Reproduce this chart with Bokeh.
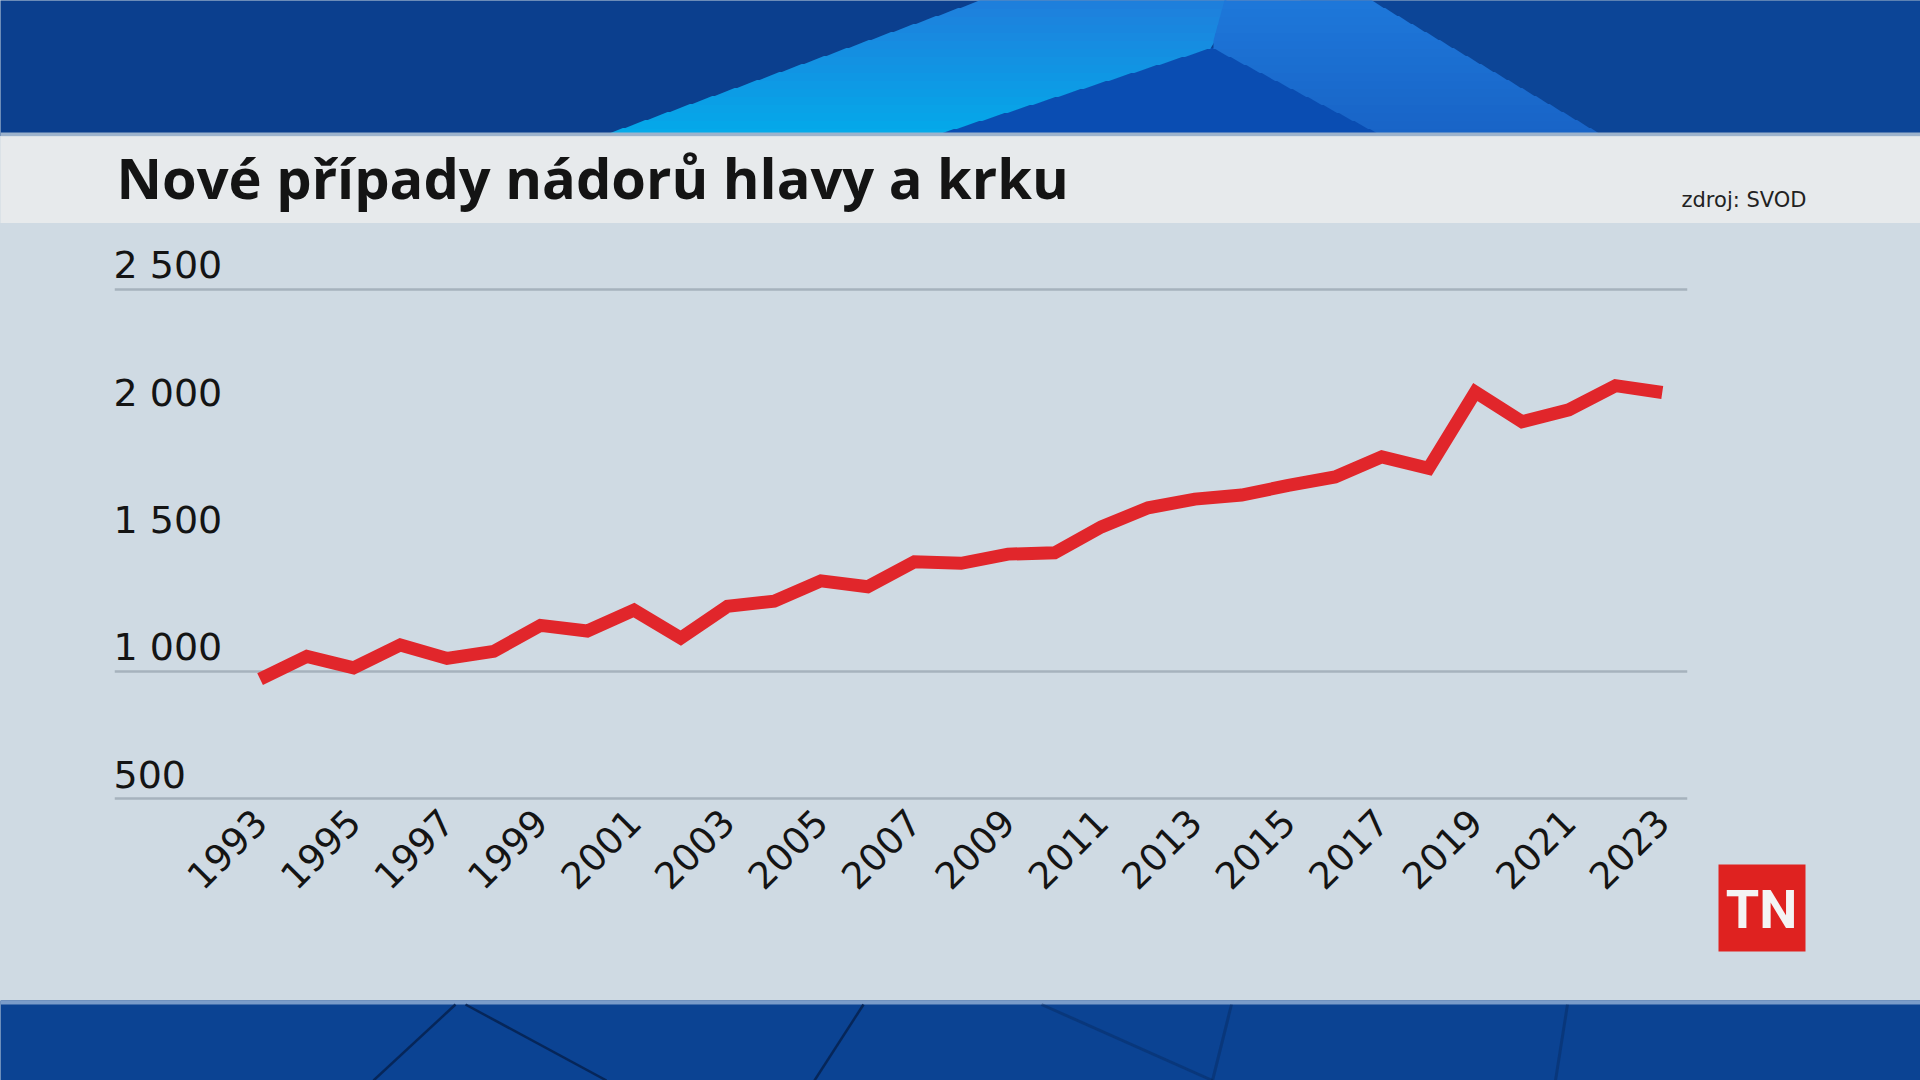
import math
from bokeh.plotting import figure
from bokeh.models import Range1d, FixedTicker, PrintfTickFormatter
from bokeh.layouts import column, row
from bokeh.embed import file_html
from bokeh.resources import INLINE
from bokeh.core.properties import value

# ---------------- data ----------------
TITLE = "Nové případy nádorů hlavy a krku"
SOURCE = "zdroj: SVOD"
LOGO = "TN"

years = [1993, 1994, 1995, 1996, 1997, 1998, 1999, 2000, 2001, 2002,
         2003, 2004, 2005, 2006, 2007, 2008, 2009, 2010, 2011, 2012,
         2013, 2014, 2015, 2016, 2017, 2018, 2019, 2020, 2021, 2022, 2023]
cases = [969, 1058, 1013, 1103, 1050, 1078, 1180, 1158, 1240, 1130,
         1255, 1275, 1355, 1332, 1430, 1424, 1460, 1465, 1567, 1642,
         1676, 1692, 1730, 1763, 1842, 1797, 2097, 1980, 2027, 2122, 2095]

x_ticks = [1993, 1995, 1997, 1999, 2001, 2003, 2005, 2007, 2009, 2011,
           2013, 2015, 2017, 2019, 2021, 2023]
y_ticks = [500, 1000, 1500, 2000, 2500]
y_tick_labels = ["500", "1 000", "1 500", "2 000", "2 500"]
grid_values = [500, 1000, 2500]

# ---------------- style ----------------
CHART_BG = "#cfdae3"
TITLE_BG = "#e7eaec"
BLUE = "#0b3f8e"
RED = "#e1262b"
TEXT = "#141414"


def no_align(f):
    if "frame_align" in f.properties():
        f.frame_align = False


def pixel_fig(w, h, bg):
    f = figure(width=w, height=h, x_range=Range1d(0, w), y_range=Range1d(h, 0),
               output_backend="svg", toolbar_location=None, min_border=0,
               x_axis_location=None, y_axis_location=None)
    f.background_fill_color = bg
    f.border_fill_color = bg
    f.outline_line_color = None
    f.grid.visible = False
    no_align(f)
    return f


def mix(c1, c2, t):
    a = [int(c1[i:i + 2], 16) for i in (1, 3, 5)]
    b = [int(c2[i:i + 2], 16) for i in (1, 3, 5)]
    return "#" + "".join("%02x" % round(a[k] + (b[k] - a[k]) * t) for k in range(3))


# ---- top blue band (decoration) ----
top = pixel_fig(1920, 136, BLUE)
top.quad(left=[1300], right=[1920], top=[0], bottom=[136], fill_color="#0e4a9c",
         fill_alpha=0.6, line_color=None)
top.patch([930, 1212, 1384], [136, 47, 136], fill_color="#0a4db2", line_color=None)
N = 17


def lx(t):
    return 600 + t * 380


def rx(t):
    yy = 136 - t * 136
    return 930 + (136 - yy) / 89 * 282 if yy >= 47 else 1212 + (47 - yy) / 47 * 13


def rlx(t):
    yy = 136 - t * 136
    return 1384 - (136 - yy) / 89 * 172 if yy >= 47 else 1212 + (47 - yy) / 47 * 13


def rrx(t):
    return 1604 - t * 233


for i in range(N):
    y0 = 136 - i * 136 / N
    y1 = 136 - (i + 1) * 136 / N
    t0, t1 = (136 - y0) / 136, (136 - y1) / 136
    tm = (t0 + t1) / 2
    top.patch([lx(t0), rx(t0) + 1, rx(t1) + 1, lx(t1)], [y0 + 0.5, y0 + 0.5, y1 - 0.5, y1 - 0.5],
              fill_color=mix("#03abea", "#1f7edc", tm), line_color=None)
    top.patch([rlx(t0) - 1, rrx(t0), rrx(t1), rlx(t1) - 1], [y0 + 0.5, y0 + 0.5, y1 - 0.5, y1 - 0.5],
              fill_color=mix("#1863c6", "#1e78da", tm), line_color=None)
top.quad(left=[0], right=[1920], top=[132], bottom=[136], fill_color="#9db3cc",
         line_color=None)

# ---- title band ----
tb = pixel_fig(1920, 87, TITLE_BG)
tb.text(x=[116], y=[40], text=[TITLE], text_font=value("Open Sans"),
        text_font_style="bold", text_font_size="56px", text_color=TEXT,
        text_baseline="alphabetic", text_align="left")
tb.text(x=[1806], y=[63], text=[SOURCE], text_font=value("DejaVu Sans"),
        text_font_size="21px", text_color="#222222",
        text_baseline="alphabetic", text_align="right")

# ---- chart ----
X0, X1 = 1989.885, 2023.54
p = figure(width=1700, height=777, x_range=Range1d(X0, X1), y_range=Range1d(480, 2712),
           output_backend="svg", toolbar_location=None, y_axis_location=None,
           min_border_left=114, min_border_right=13, min_border_top=12,
           min_border_bottom=197)
p.background_fill_color = CHART_BG
p.border_fill_color = CHART_BG
p.outline_line_color = None
no_align(p)
p.xgrid.visible = False
p.ygrid.ticker = FixedTicker(ticks=grid_values)
p.ygrid.grid_line_color = "#a6b2bd"
p.ygrid.grid_line_width = 2.5

ax = p.xaxis[0]
ax.ticker = FixedTicker(ticks=x_ticks)
ax.formatter = PrintfTickFormatter(format="%d")
ax.major_label_orientation = math.pi / 4
ax.major_label_text_font = "DejaVu Sans"
ax.major_label_text_font_size = "37px"
ax.major_label_text_color = TEXT
ax.axis_line_color = None
ax.major_tick_line_color = None
ax.minor_tick_line_color = None
ax.major_label_standoff = 6

p.text(x=[X0] * len(y_ticks), y=y_ticks, text=y_tick_labels,
       text_font=value("DejaVu Sans"), text_font_size="38px", text_color=TEXT,
       text_baseline="alphabetic", text_align="left", x_offset=-1, y_offset=-24)

p.line(years, cases, line_color=RED, line_width=13, line_join="miter", line_cap="butt")

# ---- side (logo) ----
side = pixel_fig(220, 777, CHART_BG)
side.quad(left=[18], right=[105], top=[641], bottom=[728], fill_color="#df2220",
          line_color=None)
side.text(x=[61], y=[686], text=[LOGO], text_font=value("Roboto"), text_font_style="bold",
          text_font_size="54px", text_color="#f4f4f4", text_align="center",
          text_baseline="alphabetic")

# ---- bottom band ----
bot = pixel_fig(1920, 80, "#0b4393")
bot.quad(left=[0], right=[1920], top=[0], bottom=[4], fill_color="#7a9cca", line_color=None)
bot.segment(x0=[455, 465, 863], y0=[4, 4, 4], x1=[373, 606, 814], y1=[80, 80, 80],
            line_color="#06214f", line_width=2.5, line_alpha=0.85)
bot.segment(x0=[1041, 1231, 1567], y0=[4, 4, 4], x1=[1212, 1212, 1555], y1=[80, 80, 80],
            line_color="#06214f", line_width=3, line_alpha=0.35)

chart_row = row(p, side, spacing=0, styles={"background-color": CHART_BG})
layout = column(top, tb, chart_row, bot, spacing=0, styles={"background-color": CHART_BG})

with open("out.html", "w") as fh:
    fh.write(file_html(layout, INLINE))
